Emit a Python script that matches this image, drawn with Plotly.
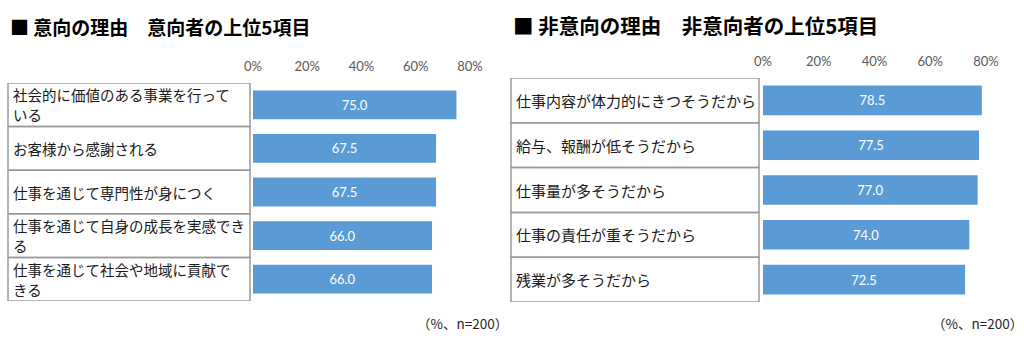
import plotly.graph_objects as go

W, H = 1024, 345

left_title = "■ 意向の理由　意向者の上位5項目"
right_title = "■ 非意向の理由　非意向者の上位5項目"

left_labels = [
    ["社会的に価値のある事業を行って", "いる"],
    ["お客様から感謝される"],
    ["仕事を通じて専門性が身につく"],
    ["仕事を通じて自身の成長を実感でき", "る"],
    ["仕事を通じて社会や地域に貢献で", "きる"],
]
left_values = [75.0, 67.5, 67.5, 66.0, 66.0]

right_labels = [
    ["仕事内容が体力的にきつそうだから"],
    ["給与、報酬が低そうだから"],
    ["仕事量が多そうだから"],
    ["仕事の責任が重そうだから"],
    ["残業が多そうだから"],
]
right_values = [78.5, 77.5, 77.0, 74.0, 72.5]

tick_vals = [0, 20, 40, 60, 80]
tick_text = ["0%", "20%", "40%", "60%", "80%"]
footnote = "（%、n=200）"

BAR = "#5B9BD5"
JP = "Noto Sans CJK JP"
NUM = "Lato, Noto Sans, sans-serif"

def px(x):
    return x / W

def py(y):
    return 1 - y / H

fig = go.Figure()

left_cats = [f"L{i}" for i in range(len(left_labels))]
right_cats = [f"R{i}" for i in range(len(right_labels))]

for vals, cats, xa, ya in [(left_values, left_cats, "x", "y"),
                           (right_values, right_cats, "x2", "y2")]:
    fig.add_trace(go.Bar(
        x=vals, y=cats, orientation="h",
        marker=dict(color=BAR, line=dict(width=0)),
        text=[f"{v:.1f}" for v in vals], textposition="inside",
        insidetextanchor="middle",
        textfont=dict(color="white", size=13, family=NUM),
        xaxis=xa, yaxis=ya, showlegend=False, hoverinfo="skip",
    ))

xcommon = dict(range=[0, 80], side="top", tickvals=tick_vals, ticktext=tick_text,
               showgrid=False, zeroline=False, showline=False, ticks="",
               tickfont=dict(size=13, color="#595959", family=NUM),
               ticklabelstandoff=8, fixedrange=True, automargin=False)
ycommon = dict(type="category", categoryorder="array", range=[4.5, -0.5],
               showticklabels=False, showgrid=False, zeroline=False,
               showline=False, ticks="", automargin=False)

fig.update_layout(
    width=W, height=H,
    margin=dict(l=0, r=0, t=0, b=0, pad=0, autoexpand=False),
    paper_bgcolor="white", plot_bgcolor="white",
    showlegend=False,
    bargap=0.34,
    xaxis=dict(domain=[px(253), px(470)], anchor="y", **xcommon),
    yaxis=dict(domain=[py(301), py(83)], anchor="x", categoryarray=left_cats, **ycommon),
    xaxis2=dict(domain=[px(763), px(986)], anchor="y2", **xcommon),
    yaxis2=dict(domain=[py(302), py(78)], anchor="x2", categoryarray=right_cats, **ycommon),
)

shapes = []
annotations = []

def add_table(cats, labels, yref, x0, x1, fsize, lh):
    for i, (c, lines) in enumerate(zip(cats, labels)):
        shapes.append(dict(type="rect", xref="paper", yref=yref,
                           x0=px(x0), x1=px(x1), y0=i - 0.5, y1=i + 0.5,
                           line=dict(color="#9A9A9A", width=1.5),
                           fillcolor="rgba(0,0,0,0)", layer="below"))
        n = len(lines)
        for k, line in enumerate(lines):
            shift = ((n - 1) / 2 - k) * lh
            annotations.append(dict(xref="paper", yref=yref, x=px(x0 + 3), y=c,
                                    xanchor="left", yanchor="middle", align="left",
                                    yshift=shift, text=line, showarrow=False,
                                    font=dict(size=fsize, color="#1a1a1a", family=JP)))

add_table(left_cats, left_labels, "y", 8, 250, 14.5, 20)
add_table(right_cats, right_labels, "y2", 511, 759, 15, 20)

annotations.append(dict(xref="paper", yref="paper", x=px(8), y=py(27),
                        xanchor="left", yanchor="middle", text=f"<b>{left_title}</b>",
                        showarrow=False, font=dict(size=19, color="black", family=JP)))
annotations.append(dict(xref="paper", yref="paper", x=px(511), y=py(25),
                        xanchor="left", yanchor="middle", text=f"<b>{right_title}</b>",
                        showarrow=False, font=dict(size=20.5, color="black", family=JP)))
annotations.append(dict(xref="paper", yref="paper", x=px(510), y=py(323),
                        xanchor="right", yanchor="middle", text=footnote,
                        showarrow=False, font=dict(size=13.5, color="#262626", family=JP)))
annotations.append(dict(xref="paper", yref="paper", x=px(1025), y=py(323),
                        xanchor="right", yanchor="middle", text=footnote,
                        showarrow=False, font=dict(size=13.5, color="#262626", family=JP)))

fig.update_layout(shapes=shapes, annotations=annotations)

fig.write_html("out.html")
